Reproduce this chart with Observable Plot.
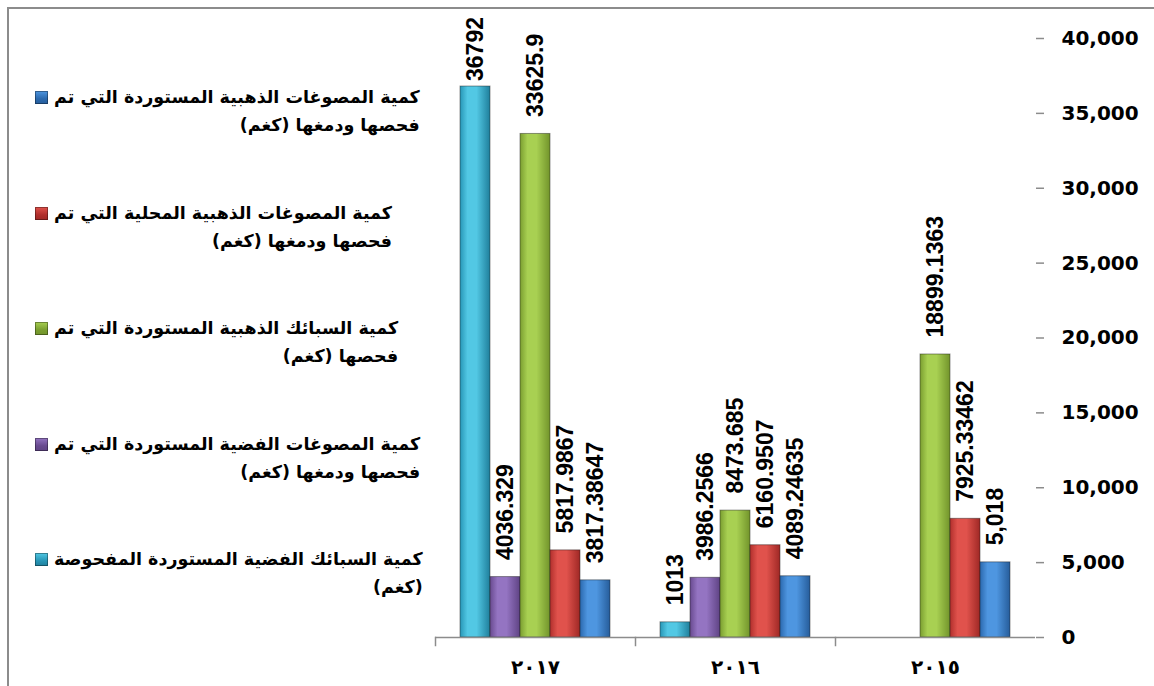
<!DOCTYPE html>
<html>
<head>
<meta charset="utf-8">
<script src="https://cdn.jsdelivr.net/npm/d3@7"></script>
<script src="https://cdn.jsdelivr.net/npm/@observablehq/plot@0.6"></script>
<style>
  html, body { margin: 0; padding: 0; background: #fff; overflow: hidden; }
  #wrap { position: relative; width: 1154px; height: 686px; overflow: hidden; }
  #border { position: absolute; left: 7px; top: 7px; right: -20px; bottom: -20px;
            border-top: 2px solid #8c8c8c; border-left: 2px solid #8c8c8c; }
  #chart { position: absolute; left: 0; top: 0; }
  .entry { position: absolute; left: 35px; display: flex; align-items: flex-start; }
  .sw { width: 13px; height: 13px; margin-top: 8px; margin-right: 6px; box-shadow: inset 0 0 0 1px rgba(0,0,0,0.35); }
  .txt { direction: rtl; text-align: right; font: bold 17.5px "DejaVu Sans", sans-serif; line-height: 28px; white-space: nowrap; color: #000; }
</style>
</head>
<body>
<div id="wrap">
  <div id="border"></div>
  <div id="chart"></div>
  <div id="legend"></div>
</div>
<script>
// ---- data ----
const years = ["٢٠١٧", "٢٠١٦", "٢٠١٥"];
const seriesKeys = ["silverBullion", "silverJewelry", "goldBullion", "localGoldJewelry", "importedGoldJewelry"];
const seriesNames = [
  ["كمية السبائك الفضية المستوردة المفحوصة", "(كغم)"],
  ["كمية المصوغات الفضية المستوردة التي تم", "فحصها ودمغها (كغم)"],
  ["كمية السبائك الذهبية المستوردة التي تم", "فحصها (كغم)"],
  ["كمية المصوغات الذهبية المحلية التي تم", "فحصها ودمغها (كغم)"],
  ["كمية المصوغات الذهبية المستوردة التي تم", "فحصها ودمغها (كغم)"]
];
const silverBullion = [36792, 1013, null];
const silverJewelry = [4036.329, 3986.2566, null];
const goldBullion = [33625.9, 8473.685, 18899.1363];
const localGoldJewelry = [5817.9867, 6160.9507, 7925.33462];
const importedGoldJewelry = [3817.38647, 4089.24635, 5018];
const silverBullionLabels = ["36792", "1013", null];
const silverJewelryLabels = ["4036.329", "3986.2566", null];
const goldBullionLabels = ["33625.9", "8473.685", "18899.1363"];
const localGoldJewelryLabels = ["5817.9867", "6160.9507", "7925.33462"];
const importedGoldJewelryLabels = ["3817.38647", "4089.24635", "5,018"];
const yTicks = [0, 5000, 10000, 15000, 20000, 25000, 30000, 35000, 40000];

// gradient colours per series: [edge-left, highlight, edge-right]
const gradColors = [
  ["#2796b6", "#52c8e4", "#1f7f9c"],
  ["#684a8f", "#9474c2", "#5f4384"],
  ["#7a9e30", "#a8d052", "#72942b"],
  ["#b12f2c", "#e0524c", "#9f2825"],
  ["#2b69ae", "#4e96e0", "#265d9b"]
];

const valueArrays = [silverBullion, silverJewelry, goldBullion, localGoldJewelry, importedGoldJewelry];
const labelArrays = [silverBullionLabels, silverJewelryLabels, goldBullionLabels, localGoldJewelryLabels, importedGoldJewelryLabels];
const rows = [];
seriesKeys.forEach((s, si) => {
  years.forEach((yr, yi) => {
    const v = valueArrays[si][yi];
    if (v != null) rows.push({year: yr, series: s, value: v, label: labelArrays[si][yi]});
  });
});
const gradIds = seriesKeys.map((s) => "grad-" + s);

const plot = Plot.plot({
  width: 1154,
  height: 686,
  marginLeft: 434,
  marginRight: 118,
  marginTop: 38,
  marginBottom: 49,
  style: {background: "transparent", overflow: "visible", color: "#000"},
  fx: {domain: years, padding: 0, label: null},
  x: {domain: seriesKeys, paddingInner: 0, paddingOuter: 0.74, axis: null},
  y: {domain: [0, 40000], axis: null},
  color: {domain: seriesKeys, range: gradIds.map((id) => `url(#${id})`)},
  marks: [
    Plot.barY(rows, {fx: "year", x: "series", y: "value", fill: "series", stroke: "#1a1a1a", strokeOpacity: 0.45, strokeWidth: 1}),
    Plot.text(rows, {fx: "year", x: "series", y: "value", text: "label", rotate: -90, textAnchor: "start", dy: -17,
      fontSize: 23, fontWeight: "bold", fontFamily: "Liberation Sans, Arial, sans-serif", fill: "#000", className: "vlabel"}),
    Plot.ruleY([0], {stroke: "#8c8c8c", strokeWidth: 1.5}),
    Plot.frame({anchor: "left", insetTop: 599, insetBottom: -8, stroke: "#8c8c8c", strokeWidth: 1.5}),
    Plot.axisY({anchor: "right", ticks: yTicks, tickSize: 8, tickPadding: 18, line: true, label: null, stroke: "#8c8c8c", strokeWidth: 1.5,
      tickFormat: d3.format(","), fontSize: 20, fontWeight: "bold", fontFamily: "DejaVu Sans, sans-serif", fill: "#000"}),
    Plot.axisFx({anchor: "bottom", tickSize: 0, tickPadding: 22, label: null, fontSize: 20, fontWeight: "bold",
      fontFamily: "DejaVu Sans, sans-serif", fill: "#000"})
  ]
});

const defs = gradIds.map((id, i) => {
  const c = gradColors[i];
  return `<linearGradient id="${id}" x1="0" y1="0" x2="1" y2="0">
    <stop offset="0" stop-color="${c[0]}"/><stop offset="0.25" stop-color="${c[1]}"/>
    <stop offset="0.55" stop-color="${c[1]}"/><stop offset="1" stop-color="${c[2]}"/></linearGradient>`;
}).join("");
plot.insertAdjacentHTML("afterbegin", `<defs>${defs}</defs>`);
document.getElementById("chart").appendChild(plot);

// keep labels inside the chart area (as the original does)
const wrapTop = document.getElementById("wrap").getBoundingClientRect().top;
plot.querySelectorAll("g.vlabel text").forEach((t) => {
  const r = t.getBoundingClientRect();
  const top = r.top - wrapTop;
  if (top < 17) {
    t.setAttribute("transform", `translate(0,${17 - top}) ` + (t.getAttribute("transform") || ""));
  }
});

// legend (reverse order, top to bottom)
const legend = document.getElementById("legend");
const order = [4, 3, 2, 1, 0];
order.forEach((si, k) => {
  const c = gradColors[si];
  const e = document.createElement("div");
  e.className = "entry";
  e.style.top = (83 + k * 115.5) + "px";
  e.innerHTML = `<div class="sw" style="background:linear-gradient(180deg, ${c[1]}, ${c[0]} 60%, ${c[2]})"></div>` +
    `<div class="txt">${seriesNames[si][0]}<br>${seriesNames[si][1]}</div>`;
  legend.appendChild(e);
});
</script>
</body>
</html>
